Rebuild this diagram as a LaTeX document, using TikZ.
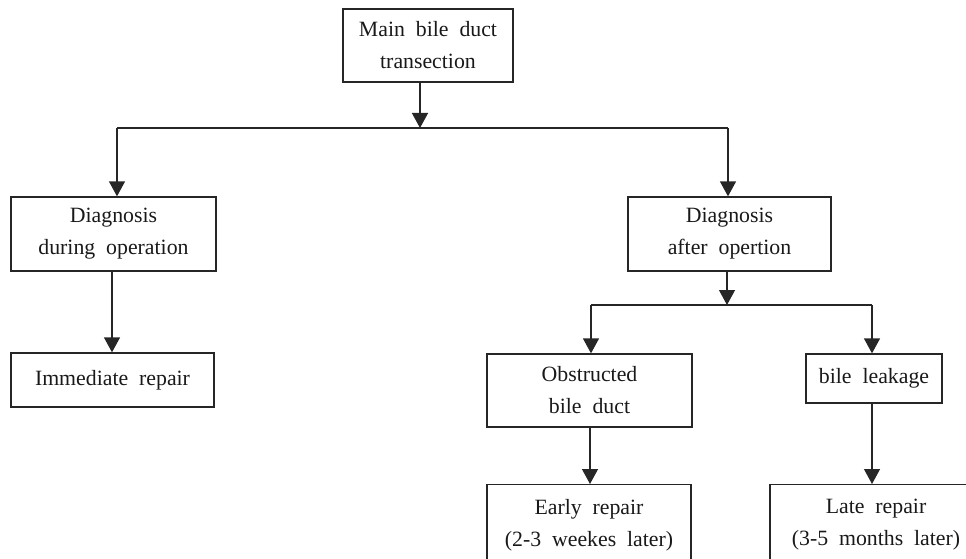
\documentclass[tikz,border=0pt]{standalone}
\usepackage{fontspec}
\setmainfont{Liberation Serif}
\usetikzlibrary{arrows.meta}
\newcommand\bxfont{\fontsize{21.8pt}{32pt}\selectfont\spaceskip=0.5em plus 0.1em minus 0.05em\relax}
\begin{document}
\begin{tikzpicture}[x=1pt,y=-1pt,
  boxtext/.style={font=\bxfont, align=center, text=black!90},
  box/.style={boxtext, draw=black!85, line width=1.3pt, inner sep=0pt},
  conn/.style={draw=black!85, line width=1.3pt},
  arr/.style={conn, -{Triangle[width=16pt,length=15pt]}}
]
\useasboundingbox (0,0) rectangle (966,559);
\clip (0,0) rectangle (966,559);
% boxes
\node[box, minimum width=170pt, minimum height=73pt] (main) at (428,45.5) {Main bile duct\\transection};
\node[box, minimum width=205pt, minimum height=74pt] (dop) at (113.5,234) {Diagnosis\\during operation};
\node[box, minimum width=203pt, minimum height=54pt] (imm) at (112.5,380) {Immediate repair};
\node[box, minimum width=203pt, minimum height=74pt] (aop) at (729.5,234) {Diagnosis\\after opertion};
\node[box, minimum width=205pt, minimum height=73pt] (obs) at (589.5,390.5) {Obstructed\\bile duct};
\node[box, minimum width=136pt, minimum height=49pt] (leak) at (874,378.5) {bile leakage};
\node[box, minimum width=204pt, minimum height=130pt, anchor=north] (early) at (589,484) {};
\node[boxtext, anchor=north, yshift=-12pt] (earlyt) at (early.north) {Early repair\\(2-3 weekes later)};
\node[box, minimum width=212pt, minimum height=130pt, anchor=north] (late) at (876,484) {};
\node[boxtext, anchor=north, yshift=-12pt] (latet) at (late.north) {Late repair\\(3-5 months later)};
% junctions
\coordinate (j1) at (420,128);
\coordinate (j1l) at (117,128);
\coordinate (j1r) at (728,128);
\coordinate (j2) at (727,305);
\coordinate (j2l) at (591,305);
\coordinate (j2r) at (872,305);
\coordinate (c1) at (112,300);
\coordinate (c2) at (590,450);
% connectors
\draw[arr] (main.south -| j1) -- (j1);
\draw[conn] (j1l) -- (j1r);
\draw[arr] (j1l) -- (dop.north -| j1l);
\draw[arr] (j1r) -- (aop.north -| j1r);
\draw[arr] (dop.south -| c1) -- (imm.north -| c1);
\draw[arr] (aop.south -| j2) -- (j2);
\draw[conn] (j2l) -- (j2r);
\draw[arr] (j2l) -- (obs.north -| j2l);
\draw[arr] (j2r) -- (leak.north -| j2r);
\draw[arr] (obs.south -| c2) -- (early.north -| c2);
\draw[arr] (leak.south -| j2r) -- (late.north -| j2r);
\end{tikzpicture}
\end{document}
